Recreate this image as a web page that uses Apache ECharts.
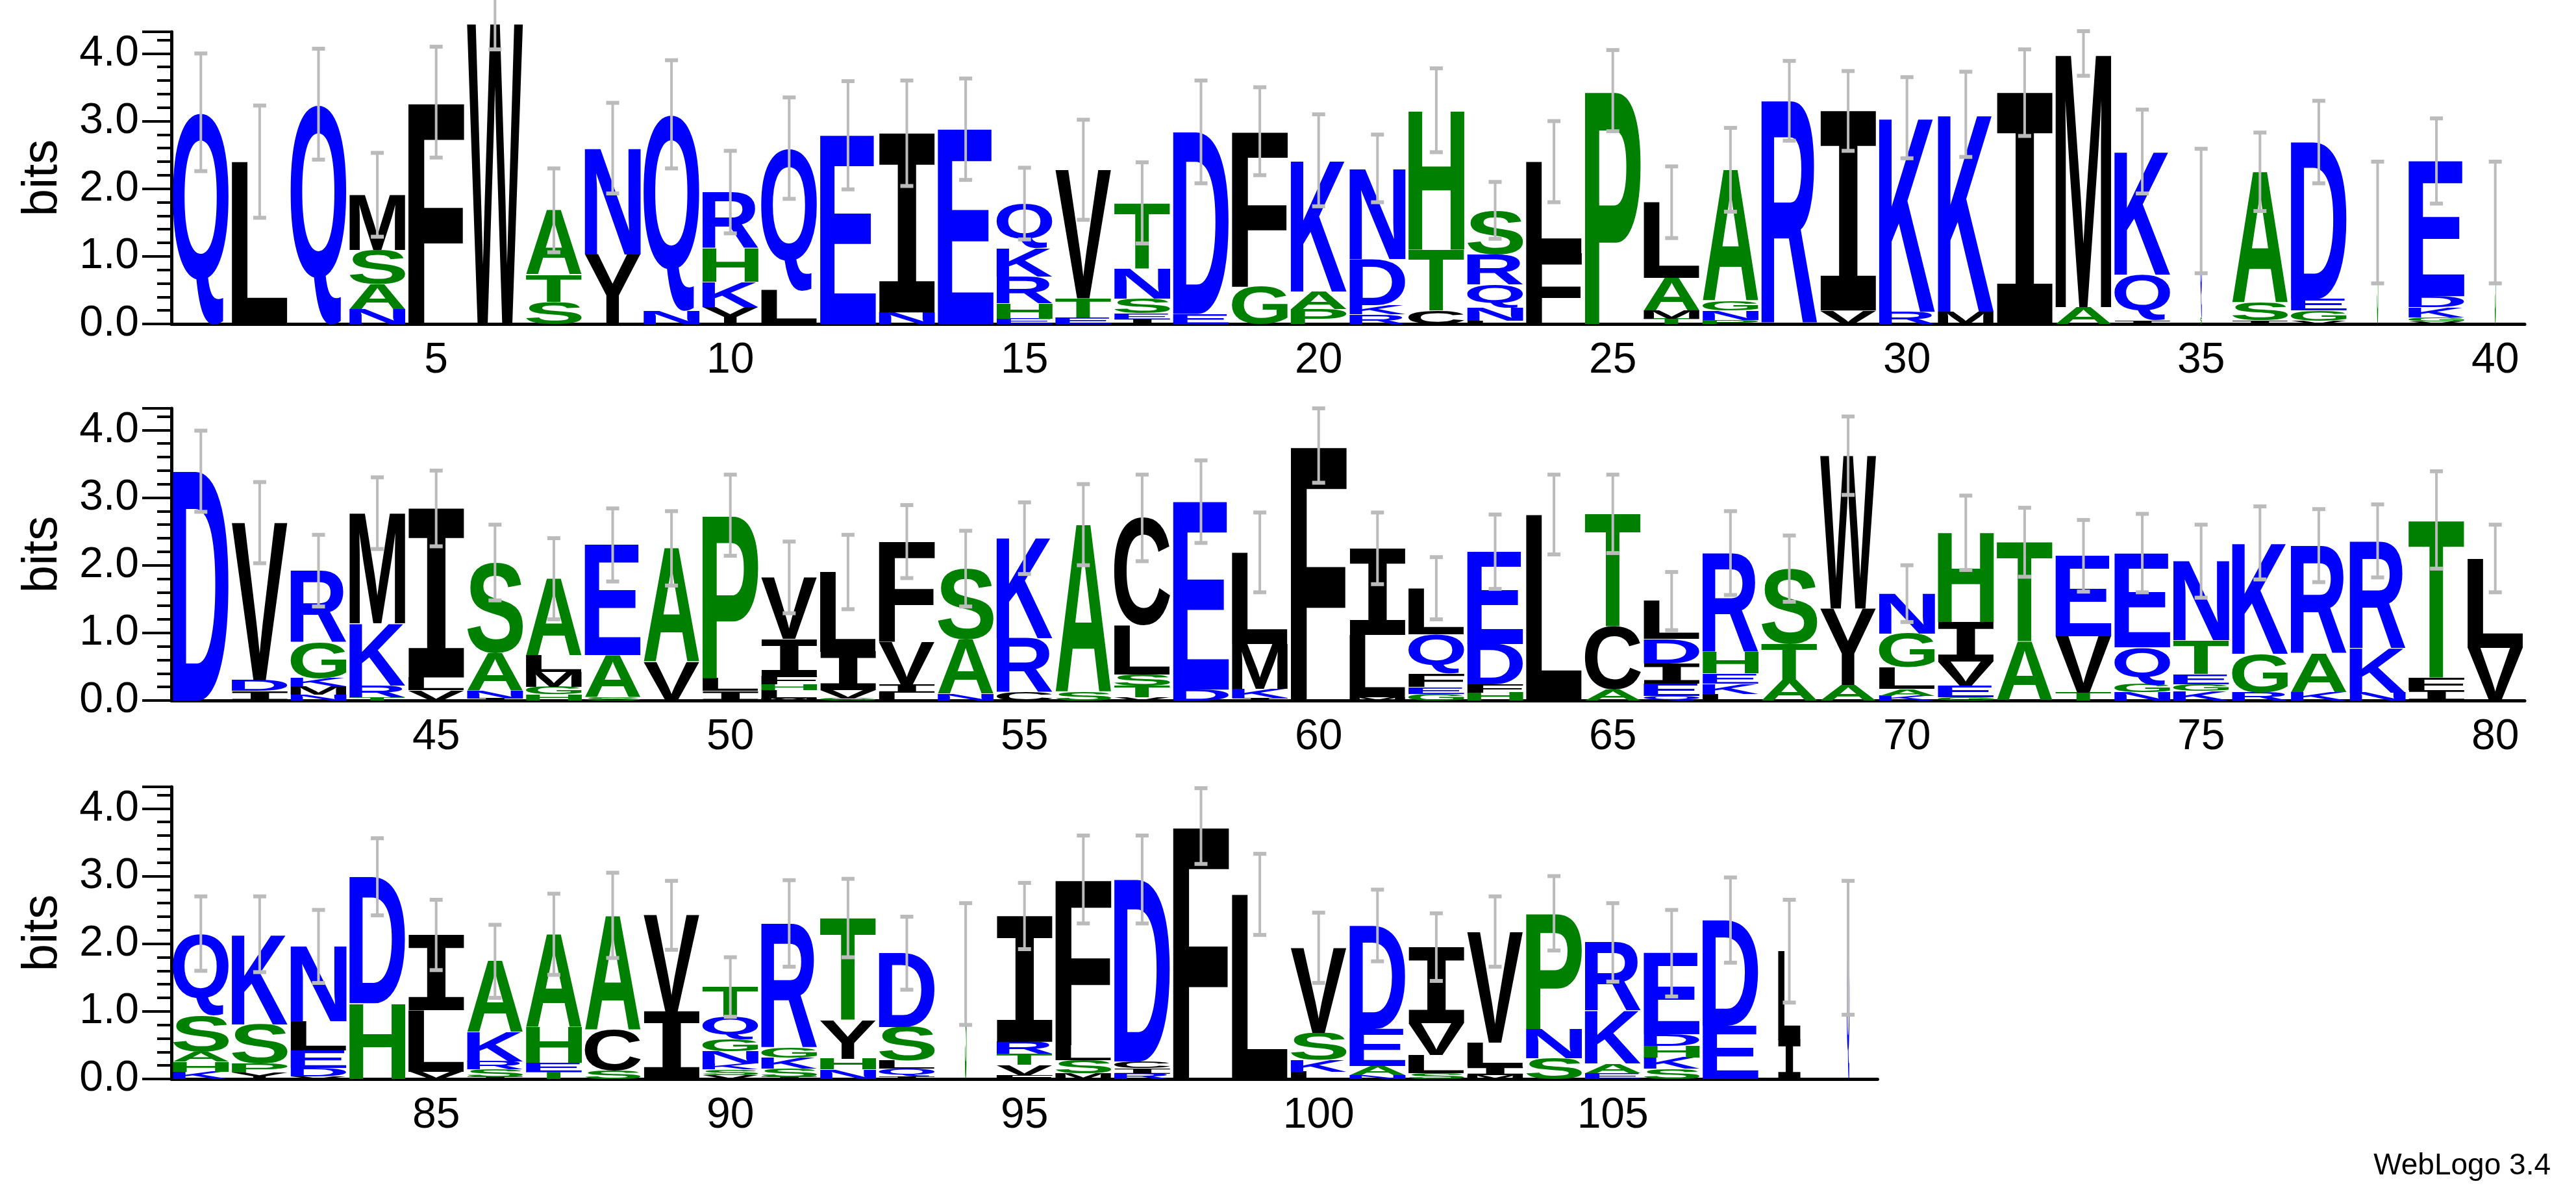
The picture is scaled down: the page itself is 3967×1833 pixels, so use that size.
<!DOCTYPE html>
<html>
<head>
<meta charset="utf-8">
<script src="https://cdn.jsdelivr.net/npm/echarts@6/dist/echarts.min.js"></script>
<style>
html, body { margin: 0; padding: 0; background: #fff; }
#main { width: 3967px; height: 1833px; }
</style>
</head>
<body>
<div id="main"></div>
<script>
// stacks: letters bottom -> top, [letter, bits]
var stacks1 = [
  [['Q',3.13]], [['L',2.4]], [['Q',3.25]],
  [['N',.22],['A',.37],['S',.5],['M',.82]],
  [['F',3.28]], [['W',4.44]],
  [['S',.33],['T',.4],['A',.95]],
  [['Y',1.03],['N',1.57]],
  [['N',.2],['Q',2.9]],
  [['Y',.25],['K',.37],['H',.5],['R',.83]],
  [['L',.5],['Q',2.1]],
  [['E',2.79]],
  [['N',.17],['I',2.65]],
  [['E',2.88]],
  [['E',.08],['H',.22],['R',.4],['K',.42],['Q',.66]],
  [['E',.1],['T',.28],['V',1.9]],
  [['I',.07],['E',.09],['S',.21],['N',.45],['T',.97]],
  [['E',.15],['D',2.69]],
  [['G',.55],['F',2.3]],
  [['P',.22],['A',.26],['K',1.94]],
  [['R',.14],['K',.14],['D',.68],['N',1.34]],
  [['C',.2],['T',.9],['H',2.06]],
  [['L',.05],['N',.2],['Q',.33],['R',.45],['S',.65]],
  [['F',1.05],['L',1.35]],
  [['P',3.45]],
  [['T',.08],['M',.12],['A',.48],['L',1.12]],
  [['P',.06],['N',.14],['G',.14],['A',1.94]],
  [['R',3.3]],
  [['V',.2],['I',2.95]],
  [['R',.18],['K',2.87]],
  [['M',.18],['K',2.92]],
  [['I',3.42]],
  [['A',.25],['M',3.75]],
  [['I',.05],['Q',.68],['K',1.82]],
  [['S',.1],['Q',1.57]],
  [['I',.05],['S',.26],['A',1.94]],
  [['V',.05],['G',.15],['E',.17],['D',2.32]],
  [['S',1.5]],
  [['V',.04],['G',.06],['K',.15],['D',.16],['E',2.0]],
  [['S',1.5]]
];
var err1 = [.87,.83,.82,.62,.82,.38,.62,.67,.8,.61,.75,.8,.78,.75,.53,.74,.6,.76,.65,.68,
            .5,.62,.42,.6,.6,.53,.62,.59,.59,.6,.63,.64,.33,.62,.92,.58,.61,.9,.63,.9];

var stacks2 = [
  [['D',3.39]],
  [['I',.14],['D',.16],['V',2.33]],
  [['N',.09],['M',.12],['K',.12],['G',.53],['R',1.06]],
  [['T',.05],['R',.17],['K',.92],['M',1.63]],
  [['V',.15],['L',.19],['I',2.5]],
  [['I',.03],['N',.11],['A',.56],['S',1.34]],
  [['H',.09],['G',.11],['M',.22],['L',.24],['A',1.14]],
  [['S',.05],['A',.62],['E',1.63]],
  [['V',.57],['A',1.68]],
  [['I',.14],['L',.19],['P',2.41]],
  [['M',.03],['L',.12],['H',.09],['F',.12],['I',.55],['V',.91]],
  [['G',.03],['V',.12],['I',.57],['L',1.18]],
  [['L',.12],['I',.12],['V',.63],['F',1.48]],
  [['N',.1],['A',.8],['S',1.05]],
  [['C',.12],['R',.8],['K',1.48]],
  [['S',.12],['A',2.48]],
  [['V',.05],['T',.17],['S',.16],['L',.73],['C',1.59]],
  [['D',.16],['E',2.78]],
  [['I',.04],['K',.13],['M',.67],['L',1.35]],
  [['F',3.77]],
  [['M',.05],['L',.92],['I',1.28]],
  [['G',.1],['E',.1],['F',.2],['Q',.58],['L',.68]],
  [['H',.12],['F',.12],['D',.6],['E',1.36]],
  [['L',2.75]],
  [['A',.16],['C',.93],['T',1.67]],
  [['Q',.07],['E',.18],['I',.3],['D',.36],['L',.56]],
  [['L',.1],['K',.15],['E',.15],['H',.32],['R',1.46]],
  [['A',.31],['T',.53],['S',1.11]],
  [['A',.23],['Y',1.13],['W',2.26]],
  [['K',.07],['A',.1],['L',.32],['G',.5],['N',.59]],
  [['G',.05],['E',.17],['V',.36],['I',.58],['H',1.32]],
  [['A',.87],['T',1.47]],
  [['T',.12],['V',.83],['E',1.19]],
  [['N',.12],['G',.12],['Q',.55],['E',1.39]],
  [['K',.14],['G',.1],['E',.15],['T',.5],['N',1.17]],
  [['R',.12],['G',.57],['K',1.64]],
  [['K',.12],['A',.57],['R',1.6]],
  [['N',.12],['K',.65],['R',1.59]],
  [['I',.15],['F',.19],['T',2.33]],
  [['V',.78],['L',1.32]]
];
var err2 = [.6,.6,.53,.53,.56,.56,.6,.54,.55,.6,.53,.55,.54,.56,.53,.6,.64,.61,.59,.55,
            .53,.46,.55,.59,.58,.43,.62,.49,.58,.42,.55,.51,.53,.58,.54,.54,.54,.54,.72,.5];

var stacks3 = [
  [['K',.11],['H',.15],['A',.15],['S',.53],['Q',1.21]],
  [['Y',.1],['P',.13],['S',.58],['K',1.33]],
  [['V',.04],['D',.12],['E',.26],['L',.43],['N',1.11]],
  [['H',1.12],['D',1.87]],
  [['V',.11],['L',.91],['I',1.11]],
  [['I',.03],['S',.11],['R',.12],['K',.43],['A',1.05]],
  [['T',.11],['E',.13],['H',.53],['A',1.37]],
  [['S',.13],['C',.6],['A',1.69]],
  [['I',1.0],['V',1.42]],
  [['V',.06],['S',.08],['K',.09],['N',.18],['G',.18],['Q',.34],['T',.43]],
  [['I',.03],['S',.12],['K',.16],['G',.15],['R',1.84]],
  [['N',.14],['H',.16],['Y',.57],['T',1.51]],
  [['I',.04],['Q',.11],['L',.12],['S',.5],['D',1.09]],
  [['S',1.7]],
  [['F',.06],['V',.15],['T',.16],['R',.18],['I',1.86]],
  [['M',.08],['S',.2],['L',.22],['F',2.45]],
  [['R',.08],['I',.08],['C',.1],['D',2.69]],
  [['F',3.74]],
  [['L',2.73]],
  [['L',.11],['K',.17],['S',.4],['V',1.26]],
  [['N',.06],['A',.13],['E',.55],['D',1.53]],
  [['S',.09],['L',.27],['V',.47],['I',1.12]],
  [['M',.06],['I',.12],['L',.36],['V',1.64]],
  [['S',.31],['N',.43],['P',1.71]],
  [['E',.09],['A',.14],['K',.78],['R',1.01]],
  [['S',.15],['K',.17],['H',.17],['D',.17],['E',1.2]],
  [['E',.79],['D',1.56]],
  [['I',.58],['L',1.31]],
  [['Q',1.94]]
];
var err3 = [.55,.56,.54,.57,.52,.54,.6,.63,.51,.44,.64,.58,.54,.9,.49,.65,.65,.56,.6,.52,
            .53,.5,.52,.55,.58,.64,.63,.76,.99];

// columns drawn narrower than a full stack (position: width fraction)
var narrowCols = { 35: 0.03, 38: 0.02, 40: 0.02, 94: 0.03, 108: 0.4, 109: 0.05 };
var yTicks = [0, 1, 2, 3, 4];

var blue = '#0000FF', green = '#008000', black = '#000000';
var letterColor = {
  Q: blue, N: blue, E: blue, D: blue, K: blue, R: blue,
  S: green, A: green, T: green, G: green, H: green, P: green,
  L: black, F: black, I: black, M: black, V: black, W: black, Y: black, C: black
};
var ALPHA = 'ACDEFGHIKLMNPQRSTVWY';
var FS = 200, FONT_FAMILY = '"Liberation Sans", Arial, sans-serif';
// the logo's I has serifs, take it from a monospace face
function familyOf(L) { return L === 'I' ? '"DejaVu Sans Mono", monospace' : FONT_FAMILY; }

// measure the ink box of each glyph so it can be stretched to fill its cell
var metrics = {};
(function () {
  var cv = document.createElement('canvas');
  var ctx = cv.getContext('2d');
  ctx.textBaseline = 'middle';
  ctx.textAlign = 'left';
  for (var i = 0; i < ALPHA.length; i++) {
    ctx.font = 'bold ' + FS + 'px ' + familyOf(ALPHA[i]);
    var m = ctx.measureText(ALPHA[i]);
    metrics[ALPHA[i]] = {
      l: m.actualBoundingBoxLeft, r: m.actualBoundingBoxRight,
      a: m.actualBoundingBoxAscent, d: m.actualBoundingBoxDescent
    };
  }
})();

function glyphData(stacks, firstPos) {
  var out = [];
  stacks.forEach(function (st, i) {
    var y = 0, wf = narrowCols[firstPos + i] || 1;
    st.forEach(function (p) {
      out.push([i, y, y + p[1], ALPHA.indexOf(p[0]), wf]);
      y += p[1];
    });
  });
  return out;
}
function errData(stacks, errs) {
  return stacks.map(function (st, i) {
    var t = 0;
    st.forEach(function (p) { t += p[1]; });
    return [i, t, errs[i]];
  });
}
function cats(first, n) {
  var a = [];
  for (var i = 0; i < n; i++) a.push(String(first + i));
  return a;
}

function renderGlyph(params, api) {
  var L = ALPHA[api.value(3)];
  var m = metrics[L];
  var c0 = api.coord([api.value(0), api.value(1)]);
  var c1 = api.coord([api.value(0), api.value(2)]);
  var bw = api.size([1, 0])[0] * 0.95 * api.value(4);
  var h = c0[1] - c1[1];
  if (h <= 0.3) return;
  var sx = bw / (m.l + m.r), sy = h / (m.a + m.d);
  return {
    type: 'text',
    x: c0[0] - bw / 2 + m.l * sx,
    y: c1[1] - (FS / 2 - m.a) * sy,
    scaleX: sx, scaleY: sy,
    style: {
      text: L, fontSize: FS, fontWeight: 'bold', fontFamily: familyOf(L),
      lineHeight: FS, fill: letterColor[L], align: 'left', verticalAlign: 'top'
    }
  };
}
function renderErr(params, api) {
  var top = api.coord([api.value(0), api.value(1) + api.value(2)]);
  var bot = api.coord([api.value(0), api.value(1) - api.value(2)]);
  var cw = 10;
  var cap = { stroke: '#BBBBBB', lineWidth: 6 };
  return {
    type: 'group',
    children: [
      { type: 'line', shape: { x1: top[0], y1: top[1], x2: bot[0], y2: bot[1] }, style: { stroke: '#BBBBBB', lineWidth: 4 } },
      { type: 'line', shape: { x1: top[0] - cw, y1: top[1], x2: top[0] + cw, y2: top[1] }, style: cap },
      { type: 'line', shape: { x1: bot[0] - cw, y1: bot[1], x2: bot[0] + cw, y2: bot[1] }, style: cap }
    ]
  };
}

var BAND = 90.6, LEFT = 264;
var rows = [
  { top: 49, n: 40, first: 1, stacks: stacks1, errs: err1 },
  { top: 629, n: 40, first: 41, stacks: stacks2, errs: err2 },
  { top: 1212, n: 29, first: 81, stacks: stacks3, errs: err3 }
];

var option = { animation: false, grid: [], xAxis: [], yAxis: [], series: [],
  graphic: [{ type: 'text', right: 39, bottom: 14,
    style: { text: 'WebLogo 3.4', fontSize: 46, fontFamily: FONT_FAMILY, fill: '#000' } }] };

rows.forEach(function (r, k) {
  option.grid.push({ left: LEFT, top: r.top, width: BAND * r.n, height: 450 });
  var c = cats(r.first, r.n);
  option.xAxis.push({
    type: 'category', gridIndex: k, data: c, position: 'bottom',
    axisLine: { show: true, lineStyle: { color: '#000', width: 5 } },
    axisTick: { alignWithLabel: true, length: 22, lineStyle: { color: '#000', width: 4 },
      interval: function (i, v) { return +v % 5 === 0; } },
    axisLabel: { interval: function (i, v) { return +v % 5 === 0; }, fontSize: 66,
      fontFamily: FONT_FAMILY, color: '#000', margin: 24 },
    splitLine: { show: false }
  });
  option.xAxis.push({
    type: 'category', gridIndex: k, data: c, position: 'bottom',
    axisLine: { show: false },
    axisTick: { alignWithLabel: true, length: 11, interval: 0, lineStyle: { color: '#000', width: 4 } },
    axisLabel: { show: false }, splitLine: { show: false }
  });
  option.yAxis.push({
    type: 'value', gridIndex: k, min: 0, max: 4.32, interval: 1,
    name: 'bits', nameLocation: 'middle', nameGap: 160, nameRotate: 90,
    nameTextStyle: { fontSize: 76, fontFamily: FONT_FAMILY, color: '#000' },
    axisLine: { show: true, lineStyle: { color: '#000', width: 5 } },
    axisTick: { show: true, length: 45, lineStyle: { color: '#000', width: 4 } },
    minorTick: { show: true, splitNumber: 5, length: 22, lineStyle: { color: '#000', width: 4 } },
    axisLabel: { fontSize: 66, fontFamily: FONT_FAMILY, color: '#000', margin: 50,
      formatter: function (v) { return yTicks.indexOf(v) >= 0 ? v.toFixed(1) : ''; } },
    splitLine: { show: false }, minorSplitLine: { show: false }
  });
  option.series.push({
    type: 'custom', xAxisIndex: 2 * k, yAxisIndex: k, clip: false, silent: true,
    renderItem: renderGlyph, data: glyphData(r.stacks, r.first)
  });
  option.series.push({
    type: 'custom', xAxisIndex: 2 * k, yAxisIndex: k, clip: false, silent: true, z: 5,
    renderItem: renderErr, data: errData(r.stacks, r.errs)
  });
});

var myChart = echarts.init(document.getElementById('main'));
myChart.setOption(option);
</script>
</body>
</html>
